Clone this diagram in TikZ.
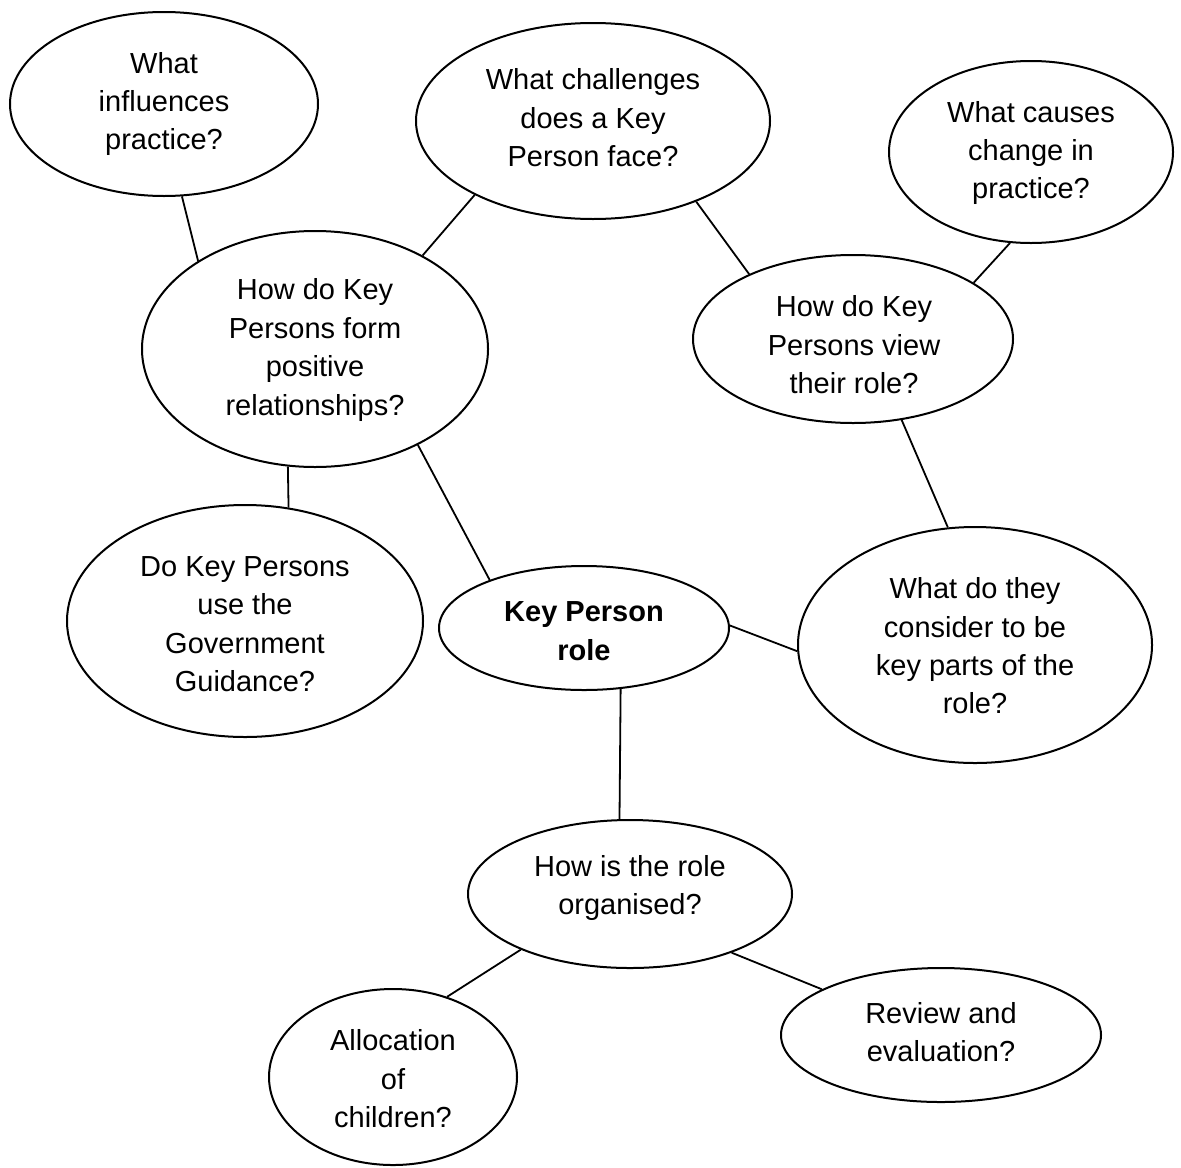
\documentclass[tikz,border=0pt]{standalone}
\usepackage{fontspec}
\setmainfont{Liberation Sans}
\usetikzlibrary{shapes.geometric}
\begin{document}
\begin{tikzpicture}[x=0.5pt,y=-0.5pt,
  bub/.style={draw, ellipse, line width=1pt, inner sep=0pt},
  txt/.style={align=center, inner sep=0pt, font=\fontsize{14.5}{19.2}\selectfont},
  conn/.style={line width=0.9pt}]
\useasboundingbox (0,0) rectangle (1181,1167);
% bubbles
\node[bub, minimum width=154pt, minimum height=92pt] (inf) at (164,104) {};
\node[bub, minimum width=177pt, minimum height=98pt] (chal) at (593,121) {};
\node[bub, minimum width=142pt, minimum height=91pt] (cause) at (1031,152) {};
\node[bub, minimum width=173pt, minimum height=118pt] (rel) at (315,349) {};
\node[bub, minimum width=160pt, minimum height=84pt] (view) at (853,339) {};
\node[bub, minimum width=178pt, minimum height=116pt] (gov) at (245,621) {};
\node[bub, minimum width=145pt, minimum height=62pt] (key) at (584,628) {};
\node[bub, minimum width=177pt, minimum height=118pt] (cons) at (975,645) {};
\node[bub, minimum width=162pt, minimum height=74pt] (org) at (630,894) {};
\node[bub, minimum width=160pt, minimum height=67pt] (rev) at (941,1035) {};
\node[bub, minimum width=124pt, minimum height=88pt] (alloc) at (393,1077) {};
% texts
\node[txt] (inf-t) at (164,104) {What\\influences\\practice?};
\node[txt] (chal-t) at (593,118) {What challenges\\does a Key\\Person face?};
\node[txt] (cause-t) at (1031,153) {What causes\\change in\\practice?};
\node[txt] (rel-t) at (315,350) {How do Key\\Persons form\\positive\\relationships?};
\node[txt] (view-t) at (854,345) {How do Key\\Persons view\\their role?};
\node[txt] (gov-t) at (245,624) {Do Key Persons\\use the\\Government\\Guidance?};
\node[txt, font=\fontsize{14.5}{19.2}\selectfont\bfseries] (key-t) at (584,631) {Key Person\\role};
\node[txt] (cons-t) at (975,646) {What do they\\consider to be\\key parts of the\\role?};
\node[txt] (org-t) at (630,888) {How is the role\\organised?};
\node[txt] (rev-t) at (941,1032) {Review and\\evaluation?};
\node[txt] (alloc-t) at (393,1079) {Allocation\\of\\children?};
% connectors
\draw[conn] (inf.-79.6) -- (rel.143.7);
\draw[conn] (chal.212.3) -- (rel.41);
\draw[conn] (chal.-38) -- (view.148.5);
\draw[conn] (cause.-103.7) -- (view.25.7);
\draw[conn] (view.-59.2) -- (cons.103.9);
\draw[conn] (rel.-103.3) -- (gov.69.9);
\draw[conn] (rel.-43) -- (key.153.2);
\draw[conn] (key.1.2) -- (cons.182.5);
\draw[conn] (key.-59.2) -- (org.98.5);
\draw[conn] (org.-153.2) -- (alloc.56.6);
\draw[conn] (org.-30.4) -- (rev.159.5);
\end{tikzpicture}
\end{document}
